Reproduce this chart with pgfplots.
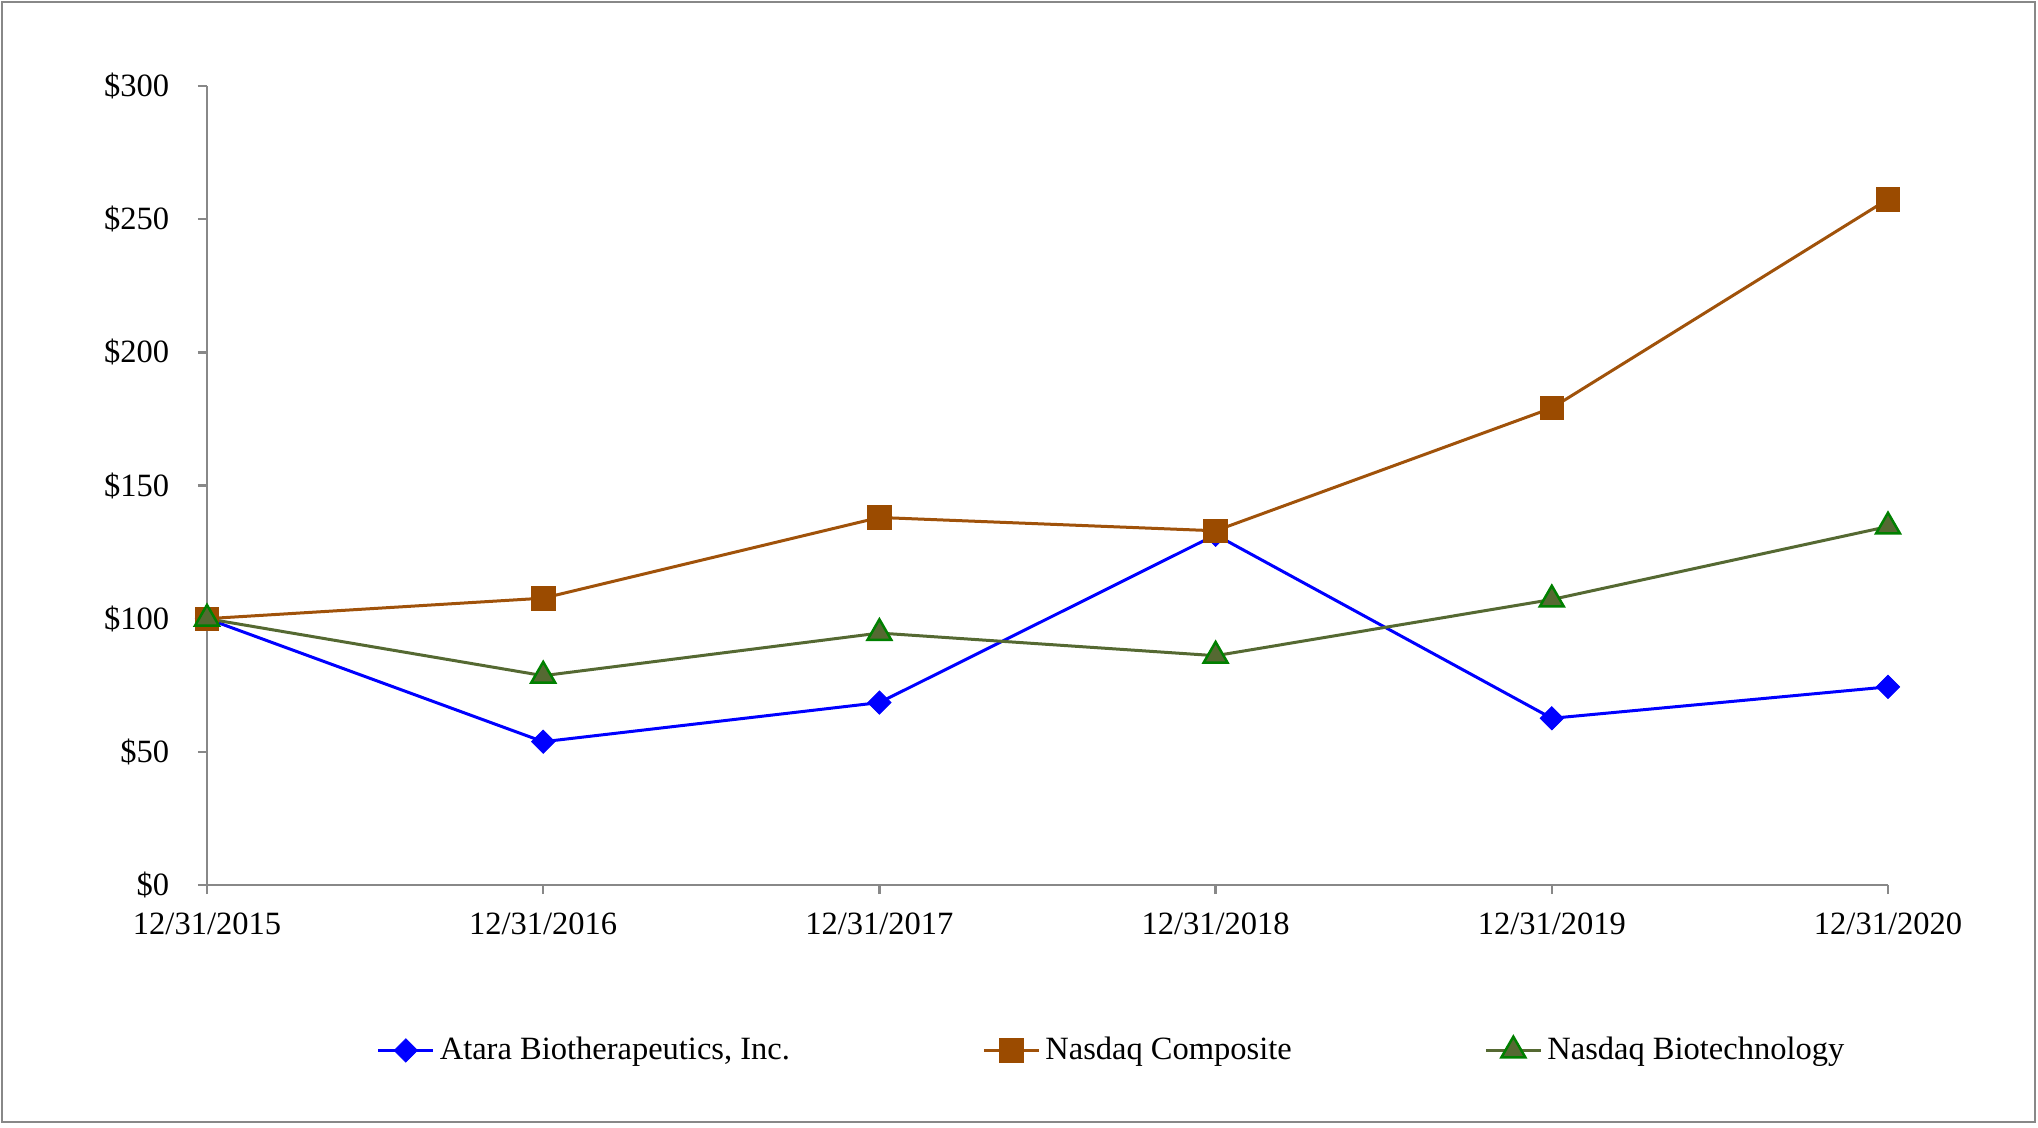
\documentclass[border=0pt]{standalone}
\usepackage{fontspec}
\setmainfont{Liberation Serif}
\usepackage{pgfplots}
\pgfplotsset{compat=1.18}
\definecolor{atara}{RGB}{0,0,255}
\definecolor{compline}{RGB}{160,82,10}
\definecolor{compfill}{RGB}{155,75,0}
\definecolor{bioline}{RGB}{85,105,50}
\definecolor{biofill}{RGB}{85,105,50}
\definecolor{bioedge}{RGB}{0,128,0}
\definecolor{axgray}{RGB}{136,136,136}
\begin{document}
\begin{tikzpicture}[font=\fontsize{13}{15}\selectfont]
\useasboundingbox (-82.8pt,-96.8pt) rectangle (732.4pt,354pt);
\draw[axgray, line width=1pt] (-82pt,-94.8pt) rectangle (731.2pt,353.2pt);
\begin{axis}[
  at={(0pt,0pt)}, anchor=origin,
  scale only axis,
  width=672.4pt, height=319.6pt,
  xmin=0, xmax=5, ymin=0, ymax=300,
  axis lines=left,
  axis line style={axgray, line width=1pt, -},
  every tick/.style={axgray, line width=1pt},
  tick align=outside,
  major tick length=3.6pt,
  xtick={0,1,2,3,4,5},
  xticklabels={12/31/2015,12/31/2016,12/31/2017,12/31/2018,12/31/2019,12/31/2020},
  ytick={0,50,100,150,200,250,300},
  yticklabels={\$0,\$50,\$100,\$150,\$200,\$250,\$300},
  /pgf/number format/assume math mode=true,
  yticklabel style={xshift=-8pt},
  xticklabel style={yshift=-4pt},
  clip=false,
  legend columns=3,
  legend style={draw=none, fill=none, at={(0.539,-0.207)}, anchor=center,
    /tikz/every even column/.append style={column sep=75pt},
    nodes={inner xsep=2pt},
    font=\fontsize{13}{15}\selectfont},
  legend cell align=left,
  legend image code/.code={\draw[mark repeat=2,mark phase=2] plot coordinates {(0pt,0pt)(11pt,0pt)(22pt,0pt)};},
]
\addplot[atara, line width=1.2pt, mark=square*, mark size=3.3pt, mark options={rotate=45, fill=atara, draw=atara, line width=0.3pt}]
  coordinates {(0,100) (1,53.8) (2,68.5) (3,131.5) (4,62.6) (5,74.4)};
\addlegendentry{Atara Biotherapeutics, Inc.}
\addplot[compline, line width=1.2pt, mark=square*, mark size=4.7pt, mark options={fill=compfill, draw=compfill, line width=0.3pt}]
  coordinates {(0,100) (1,107.7) (2,138) (3,133) (4,179.1) (5,257.5)};
\addlegendentry{Nasdaq Composite}
\addplot[bioline, line width=1.2pt, mark=triangle*, mark size=5.5pt, mark options={fill=biofill, draw=bioedge, line width=1pt}]
  coordinates {(0,100) (1,78.6) (2,94.6) (3,86.1) (4,107.2) (5,134.6)};
\addlegendentry{Nasdaq Biotechnology}
\end{axis}
\end{tikzpicture}
\end{document}
